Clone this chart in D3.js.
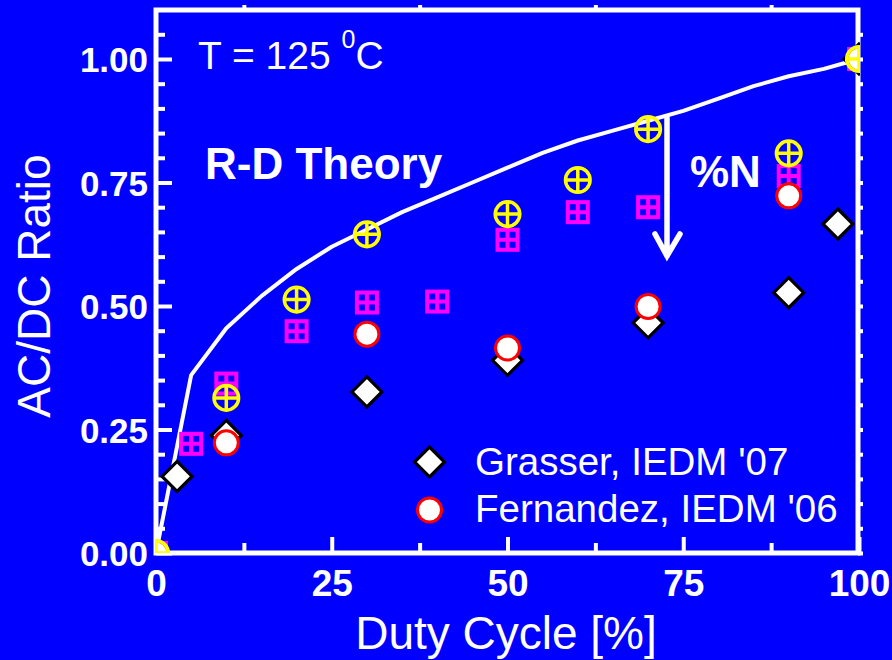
<!DOCTYPE html>
<html>
<head>
<meta charset="utf-8">
<script src="https://cdn.jsdelivr.net/npm/d3@7"></script>
<style>
  html, body { margin: 0; padding: 0; background: #0000ff; }
  svg { display: block; }
  text { font-family: "Liberation Sans", Arial, sans-serif; fill: #fff; }
</style>
</head>
<body>
<svg id="chart" width="892" height="660"></svg>
<script>
// R-D theory curve: duty cycle [%] vs AC/DC ratio
const theoryDuty  = [0, 5, 10, 15, 20, 25, 30, 35, 40, 45, 50, 55, 60, 65, 70, 75, 80, 85, 90, 95, 100];
const theoryRatio = [0, 0.36, 0.455, 0.52, 0.575, 0.62, 0.655, 0.69, 0.72, 0.75, 0.78, 0.81, 0.835, 0.855, 0.875, 0.895, 0.92, 0.945, 0.965, 0.98, 1.0];

// Grasser, IEDM '07
const grasserDuty  = [3, 10, 30, 50, 70, 90, 97, 100];
const grasserRatio = [0.155, 0.238, 0.326, 0.39, 0.466, 0.527, 0.666, 1.0];

// Fernandez, IEDM '06
const fernandezDuty  = [0, 10, 30, 50, 70, 90, 100];
const fernandezRatio = [0, 0.223, 0.443, 0.415, 0.499, 0.723, 1.0];

// Nitrided samples (lower and higher %N)
const lowNDuty  = [0, 10, 20, 30, 50, 60, 70, 90, 100];
const lowNRatio = [0, 0.314, 0.513, 0.645, 0.686, 0.755, 0.858, 0.809, 1.0];
const highNDuty  = [0, 5, 10, 20, 30, 40, 50, 60, 70, 90, 100];
const highNRatio = [0, 0.221, 0.343, 0.449, 0.507, 0.509, 0.634, 0.69, 0.70, 0.763, 1.0];

// Axis ticks
const xMajorTicks = [0, 25, 50, 75, 100];
const xMinorTicks = [12.5, 37.5, 62.5, 87.5];
const yMajorTicks = [0, 0.25, 0.5, 0.75, 1.0];
const yMinorTicks = [0.05, 0.1, 0.15, 0.2, 0.3, 0.35, 0.4, 0.45, 0.55, 0.6, 0.65, 0.7, 0.8, 0.85, 0.9, 0.95, 1.05];

const legendLabels = ["Grasser, IEDM '07", "Fernandez, IEDM '06"];

const zip = (xs, ys) => xs.map((d, i) => ({ x: d, y: ys[i] }));

const svg = d3.select("#chart");
const W = 892, H = 660;
svg.append("rect").attr("width", W).attr("height", H).attr("fill", "#0000ff");

const plotLeft = 156, plotRight = 859, plotTop = 10, plotBottom = 553;
const x = d3.scaleLinear().domain([0, 100]).range([plotLeft, plotRight]);
const y = d3.scaleLinear().domain([0, 1]).range([plotBottom, 59]);

// Frame
svg.append("rect")
  .attr("x", plotLeft).attr("y", plotTop)
  .attr("width", plotRight - plotLeft - 1).attr("height", plotBottom - plotTop)
  .attr("fill", "none").attr("stroke", "#fff").attr("stroke-width", 5);

function styleAxis(g, w) {
  g.select(".domain").remove();
  g.selectAll(".tick line").attr("stroke", "#fff").attr("stroke-width", w);
}

// Bottom axis: major ticks with labels, then minor ticks
const xAxisG = svg.append("g").attr("transform", `translate(0,${plotBottom})`)
  .call(d3.axisBottom(x).tickValues(xMajorTicks).tickSize(-16).tickPadding(17).tickFormat(d3.format("d")));
styleAxis(xAxisG, 4);
xAxisG.selectAll(".tick text")
  .attr("fill", "#fff").style("font-size", "37px").style("font-weight", "bold")
  .style("font-family", "'Liberation Sans', Arial, sans-serif");
styleAxis(svg.append("g").attr("transform", `translate(0,${plotBottom})`)
  .call(d3.axisBottom(x).tickValues(xMinorTicks).tickSize(-10).tickFormat("")), 4);

// Left axis
const yAxisG = svg.append("g").attr("transform", `translate(${plotLeft},0)`)
  .call(d3.axisLeft(y).tickValues(yMajorTicks).tickSize(-16).tickPadding(8).tickFormat(d3.format(".2f")));
styleAxis(yAxisG, 4);
yAxisG.selectAll(".tick text")
  .attr("fill", "#fff").attr("dy", "0.36em").style("font-size", "35px").style("font-weight", "bold")
  .style("font-family", "'Liberation Sans', Arial, sans-serif");
styleAxis(svg.append("g").attr("transform", `translate(${plotLeft},0)`)
  .call(d3.axisLeft(y).tickValues(yMinorTicks).tickSize(-9).tickFormat("")), 4);

// Short outer ticks on top and right edges
styleAxis(svg.append("g").attr("transform", `translate(0,${plotTop})`)
  .call(d3.axisTop(x).tickValues(xMinorTicks).tickSize(5).tickFormat("")), 4);
styleAxis(svg.append("g").attr("transform", `translate(${plotRight - 1},0)`)
  .call(d3.axisRight(y).tickValues(yMajorTicks.concat(yMinorTicks)).tickSize(5).tickFormat("")), 4);

// Plot clip
svg.append("clipPath").attr("id", "plotClip")
  .append("rect").attr("x", plotLeft - 1).attr("y", plotTop - 1)
  .attr("width", plotRight - plotLeft + 2).attr("height", plotBottom - plotTop + 1);

const plot = svg.append("g").attr("clip-path", "url(#plotClip)");

// R-D theory line
plot.append("path")
  .datum(zip(theoryDuty, theoryRatio))
  .attr("fill", "none").attr("stroke", "#fff").attr("stroke-width", 4).attr("stroke-linejoin", "round")
  .attr("d", d3.line().x(d => x(d.x)).y(d => y(d.y)));

// Marker drawers
function diamond(g, cx, cy) {
  const r = 15;
  g.append("path")
    .attr("d", `M${cx},${cy - r}L${cx + r},${cy}L${cx},${cy + r}L${cx - r},${cy}Z`)
    .attr("fill", "#fff").attr("stroke", "#000").attr("stroke-width", 3.2).attr("stroke-linejoin", "miter");
}
function ring(g, cx, cy) {
  g.append("circle").attr("cx", cx).attr("cy", cy).attr("r", 12)
    .attr("fill", "#fff").attr("stroke", "#ff0000").attr("stroke-width", 3);
}
function gridSquare(g, cx, cy) {
  const s = 10;
  g.append("rect").attr("x", cx - s).attr("y", cy - s).attr("width", 2 * s).attr("height", 2 * s)
    .attr("fill", "none").attr("stroke", "#ff00ff").attr("stroke-width", 4);
  g.append("path").attr("d", `M${cx - s},${cy}H${cx + s}M${cx},${cy - s}V${cy + s}`)
    .attr("stroke", "#ff00ff").attr("stroke-width", 4);
}
function crossCircle(g, cx, cy) {
  const r = 12.3;
  g.append("circle").attr("cx", cx).attr("cy", cy).attr("r", r)
    .attr("fill", "none").attr("stroke", "#ffff00").attr("stroke-width", 3.5);
  g.append("path").attr("d", `M${cx - r},${cy}H${cx + r}M${cx},${cy - r}V${cy + r}`)
    .attr("stroke", "#ffff00").attr("stroke-width", 3.5);
}

zip(grasserDuty, grasserRatio).forEach(d => diamond(plot, x(d.x), y(d.y)));
zip(highNDuty, highNRatio).forEach(d => gridSquare(plot, x(d.x), y(d.y)));
zip(fernandezDuty, fernandezRatio).forEach(d => ring(plot, x(d.x), y(d.y)));
zip(lowNDuty, lowNRatio).forEach(d => crossCircle(plot, x(d.x), y(d.y)));

// Annotations
const tLabel = svg.append("text").attr("x", 198).attr("y", 69).style("font-size", "39px");
tLabel.append("tspan").text("T = 125 ");
tLabel.append("tspan").attr("dy", -21).style("font-size", "25px").text("0");
tLabel.append("tspan").attr("dy", 21).text("C");

svg.append("text").attr("x", 205).attr("y", 179)
  .style("font-size", "44px").style("font-weight", "bold").text("R-D Theory");

svg.append("text").attr("x", 690).attr("y", 187)
  .style("font-size", "44px").style("font-weight", "bold").text("%N");

// Downward arrow for increasing nitrogen content
svg.append("path")
  .attr("d", "M667,118V256M655,234L667,256L680,234")
  .attr("fill", "none").attr("stroke", "#fff").attr("stroke-width", 5.5)
  .attr("stroke-linecap", "round").attr("stroke-linejoin", "miter");

// Legend
const legend = svg.append("g");
diamond(legend, 429.5, 462);
ring(legend, 429.5, 510);
legend.append("text").attr("x", 475).attr("y", 475).style("font-size", "38.5px").text(legendLabels[0]);
legend.append("text").attr("x", 475).attr("y", 522).style("font-size", "38.5px").text(legendLabels[1]);

// Axis titles
svg.append("text").attr("x", 506).attr("y", 649).attr("text-anchor", "middle")
  .style("font-size", "46px").text("Duty Cycle [%]");
svg.append("text").attr("transform", "translate(50,286) rotate(-90)").attr("text-anchor", "middle")
  .style("font-size", "46px").text("AC/DC Ratio");
</script>
</body>
</html>
